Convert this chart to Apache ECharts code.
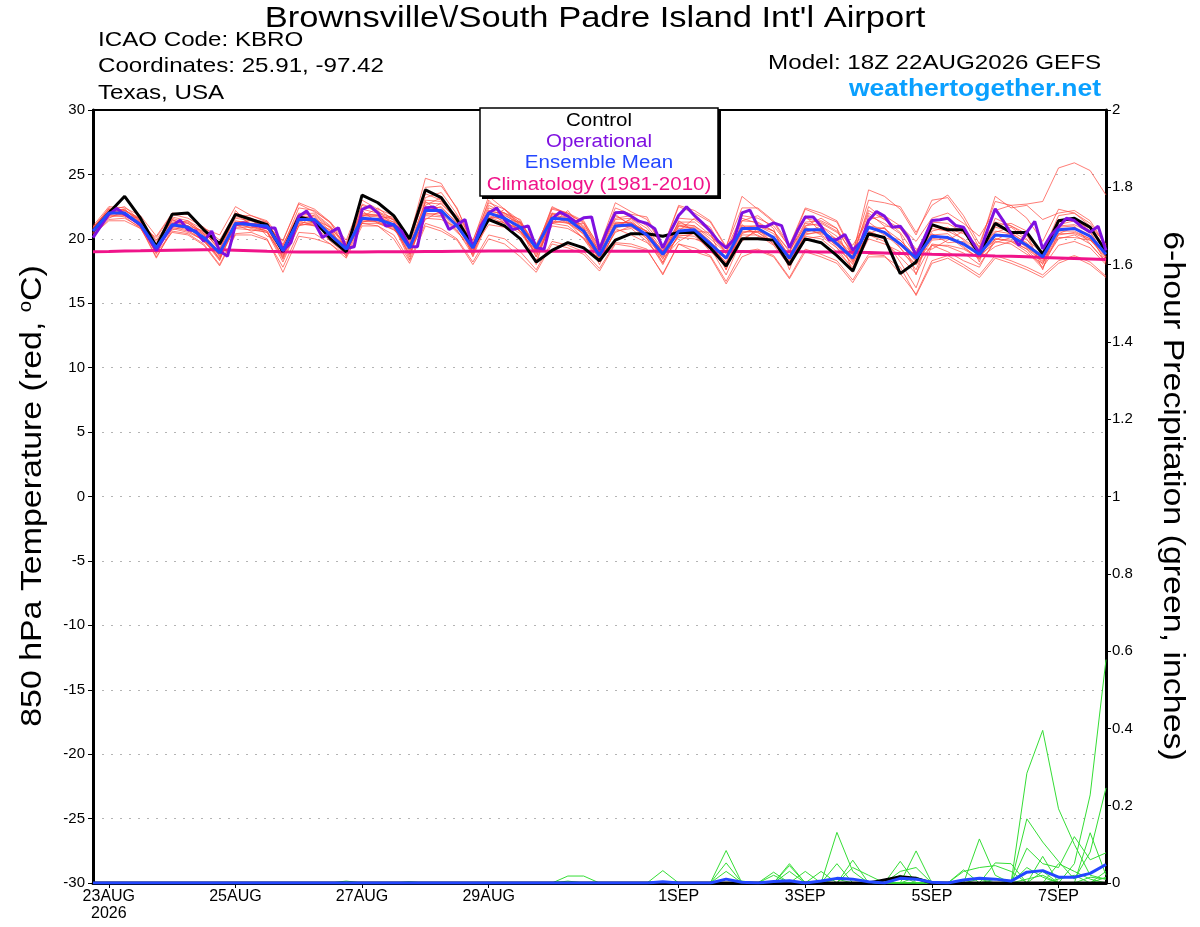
<!DOCTYPE html>
<html>
<head>
<meta charset="utf-8">
<script src="https://cdn.jsdelivr.net/npm/echarts@6/dist/echarts.min.js"></script>
<style>
html,body{margin:0;padding:0;background:#fff;}
#chart{width:1200px;height:927px;}
</style>
</head>
<body>
<div id="chart"></div>
<script>
// ---- Time axis: forecast hours relative to 23AUG2026 00Z (run 22AUG 18Z) ----
const tickHours = [0, 48, 96, 144, 216, 264, 312, 360];
const tickLabels = ["23AUG\n2026", "25AUG", "27AUG", "29AUG", "1SEP", "3SEP", "5SEP", "7SEP"];
const firstHour = -6;      // 22AUG 18Z
const lastHour = 378;      // 7SEP 18Z

// ---- 850 hPa temperature (°C), 6-hourly, 65 values ----
const controlT = [20.6, 22.0,23.3,21.6,19.4, 21.9,22.0,20.7,19.6, 21.9,21.5,21.1,19.0, 21.7,21.4,20.0,19.0,
  23.4,22.8,21.8,20.0, 23.8,23.2,21.5,19.4, 21.5,21.0,20.0,18.2, 19.1,19.7,19.3,18.3,
  19.9,20.4,20.4,20.2, 20.5,20.5,19.3,17.9, 20.0,20.0,19.9,18.0, 20.0,19.7,18.7,17.5,
  20.4,20.1,17.3,18.2, 21.1,20.7,20.7,18.8, 21.2,20.5,20.5,18.8, 21.4,21.6,20.9,19.0];
const meanT = [20.6, 22.0,22.0,21.1,19.3, 21.1,20.9,20.1,18.9, 21.2,21.1,21.0,19.1, 21.5,21.5,20.3,19.2,
  21.6,21.5,21.1,19.3, 22.2,22.2,21.0,19.3, 22.0,21.6,20.9,19.3, 21.6,21.5,20.6,18.7,
  21.0,21.1,20.3,18.8, 20.6,20.7,19.6,18.5, 20.8,20.8,20.1,18.5, 20.7,20.7,19.6,18.5,
  20.9,20.5,19.6,18.5, 20.2,20.1,19.6,18.8, 20.3,20.2,19.5,18.6, 20.7,20.8,20.2,18.8];
const climoT = [19.0,19.02,19.05,19.07,19.1,19.12,19.14,19.15,19.15,
  19.12,19.08,19.03,18.99,18.97,18.97,18.97,18.98,
  18.98,18.99,19.0,19.0,19.01,19.02,19.03,19.04,19.05,19.05,19.05,19.05,19.04,19.04,19.03,19.03,
  19.03,19.03,19.03,19.03,19.02,19.02,19.02,19.01,19.01,19.0,19.0,19.0,18.99,18.98,18.97,18.96,
  18.93,18.9,18.87,18.84,18.8,18.77,18.74,18.71,18.67,18.64,18.6,18.56,18.52,18.48,18.44,18.4];
// Operational run, 3-hourly, 129 values
const operT = [20.1,21.0,21.9,22.35,21.9,21.5,21.1,20.1,19.1,20.1,21.0,21.45,20.7,20.6,19.8,20.6,19.05,
  18.65,21.1,21.24,21.1,21.0,20.85,20.85,19.05,19.7,21.76,22.15,21.24,20.1,20.5,20.85,19.25,
  19.38,22.28,22.54,22.02,21.0,21.1,20.6,19.38,19.38,22.4,22.48,22.0,20.72,21.1,21.5,19.3,
  21.0,22.0,22.4,21.5,20.72,20.85,21.0,19.3,19.2,21.55,22.07,21.76,21.3,21.63,21.7,19.17,
  20.72,22.02,22.07,21.76,21.37,21.19,20.78,19.3,20.6,21.81,22.48,21.81,21.24,20.6,19.82,19.3,
  19.95,22.02,22.23,20.98,20.93,21.24,21.03,19.3,20.6,21.7,21.7,20.98,19.9,19.95,20.34,19.12,
  19.74,21.42,22.12,21.76,20.9,20.98,20.13,18.7,20.0,21.42,21.48,21.6,21.04,20.9,19.87,18.91,
  20.65,22.33,21.42,20.39,19.48,20.52,21.35,19.22,20.26,20.9,21.6,21.42,20.9,20.52,20.98,19.1];

// Ensemble members (°C), 6-hourly
const mem01 = [20.8, 22.3,22.2,21.5,19.8, 21.4,21.3,20.5,19.2, 21.6,21.4,21.2,19.5, 22.0,21.8,20.8,19.6, 22.0,21.8,21.5,19.8, 23.5,23.0,21.6,19.5, 22.4,22.0,21.3,19.6, 22.0,21.8,21.0,19.0, 21.5,21.6,20.8,19.2, 21.2,21.0,20.2,19.0, 21.4,21.3,20.6,19.1, 21.0,21.2,20.5,19.5, 21.5,21.8,21.0,19.8, 21.6,22.0,21.2,20.2, 22.2,22.6,22.7,22.9, 25.5,25.9,25.3,23.4];
const mem02 = [20.3, 21.5,21.6,20.9,18.6, 20.6,20.4,19.6,18.0, 20.4,20.5,20.0,17.4, 20.2,20.0,19.6,18.7, 21.2,21.0,20.3,18.3, 21.2,20.8,20.0,18.2, 20.3,20.0,19.0,17.6, 19.8,19.5,19.0,17.7, 19.7,19.6,19.2,17.2, 19.6,19.3,18.7,16.7, 19.0,19.2,18.7,17.0, 19.2,18.8,18.3,16.8, 18.8,18.7,17.3,15.7, 18.3,18.7,18.0,17.2, 18.7,18.3,17.8,17.2, 18.3,18.7,18.2,17.1];
const mem03 = [21.0, 22.5,22.4,21.8,20.2, 22.0,21.9,20.8,20.3, 22.5,21.8,21.4,19.8, 22.8,22.3,21.3,19.9, 23.0,22.3,21.8,20.1, 24.7,24.3,22.3,19.8, 23.3,22.3,21.2,19.2, 22.5,21.9,21.3,19.4, 22.8,22.1,21.5,19.3, 22.5,22.0,21.3,19.3, 23.3,22.3,21.3,19.3, 22.3,21.8,21.3,18.8, 23.8,23.3,22.3,20.3, 23.0,23.2,21.5,19.3, 23.3,22.4,22.6,21.5, 22.0,22.2,21.4,19.5];
const mem04 = [20.5, 21.8,21.9,21.0,19.0, 21.0,20.7,19.8,18.5, 20.9,20.9,20.6,18.6, 21.3,21.2,20.0,19.0, 21.4,21.3,20.9,19.0, 22.0,21.8,20.6,19.0, 21.7,21.2,20.4,18.9, 21.2,21.0,20.0,18.2, 20.6,20.8,19.8,18.2, 20.3,20.2,19.2,17.8, 20.3,20.3,19.5,17.9, 20.2,20.0,19.0,17.8, 20.3,19.8,18.6,17.3, 19.6,19.4,18.9,18.0, 19.8,19.6,18.8,18.1, 20.0,20.3,19.6,18.2];
const mem05 = [20.9, 22.1,22.0,21.3,19.6, 21.6,21.2,20.4,19.5, 21.7,21.6,21.1,19.3, 21.9,22.0,21.0,19.5, 22.3,22.0,21.5,19.7, 22.8,22.7,21.5,19.6, 22.6,22.0,21.5,19.0, 22.3,22.0,21.2,19.2, 21.6,21.8,21.0,19.5, 21.6,21.5,20.6,19.2, 21.8,21.6,21.0,19.4, 21.6,21.3,20.6,18.9, 22.2,21.5,20.5,18.7, 21.0,20.8,20.4,19.4, 21.3,21.0,20.2,19.0, 21.8,22.0,21.0,19.6];
const mem06 = [20.2, 21.9,22.1,20.9,18.5, 20.8,20.5,19.9,18.3, 21.3,20.8,20.5,18.2, 21.0,21.3,20.2,19.3, 21.8,21.7,21.0,18.8, 21.6,21.5,20.9,19.2, 21.1,20.9,20.0,18.3, 21.4,21.2,20.4,18.0, 20.8,20.3,19.7,18.5, 19.8,20.5,19.3,17.2, 20.0,20.6,20.2,18.3, 20.5,20.8,19.3,17.6, 20.0,19.6,19.0,18.0, 19.5,19.0,18.3,17.8, 20.0,19.8,19.2,17.8, 19.5,19.8,19.3,18.0];
const mem07 = [20.7, 22.2,22.3,21.3,19.4, 21.3,21.2,20.3,19.0, 21.0,21.2,21.2,19.6, 21.8,21.7,20.6,18.9, 21.9,21.9,21.3,19.5, 22.5,22.4,21.3,18.9, 22.2,21.9,21.0,19.4, 21.9,21.6,20.8,18.9, 21.3,21.2,20.6,19.0, 21.0,21.0,20.0,18.9, 20.9,21.0,20.4,18.7, 21.2,21.0,20.2,18.4, 21.0,20.8,19.9,18.6, 20.8,20.6,20.0,19.0, 20.6,20.4,19.7,18.4, 21.0,21.1,20.5,18.6];
const mem08 = [20.4, 21.7,21.8,21.1,19.1, 21.0,20.9,19.8,18.7, 21.1,20.9,20.8,18.9, 21.5,21.4,20.1,19.0, 21.2,21.2,20.8,19.2, 21.9,22.0,20.7,18.7, 21.8,21.4,20.6,19.0, 21.6,21.5,20.3,18.4, 21.2,21.3,20.0,18.0, 20.4,20.5,19.4,18.2, 20.8,20.5,19.8,18.0, 20.0,20.2,19.3,18.1, 20.5,20.0,18.2,16.2, 19.5,19.5,19.2,18.5, 19.4,19.8,19.0,17.7, 20.4,20.4,19.9,18.9];
const mem09 = [20.6, 22.0,21.9,21.2,19.5, 21.1,21.0,20.1,18.8, 21.4,21.2,21.1,19.0, 21.6,21.6,20.5,19.4, 21.5,21.3,20.7,19.6, 22.2,22.5,21.2,19.5, 22.0,21.8,21.2,19.5, 21.5,21.6,20.8,18.8, 21.1,20.9,20.3,18.9, 20.8,20.9,19.8,18.6, 20.5,20.6,20.0,18.4, 20.8,20.4,19.9,18.9, 21.0,20.3,19.9,18.6, 20.3,20.4,19.4,18.4, 20.9,20.6,19.9,18.9, 20.6,20.6,20.0,18.4];
const mem10 = [20.5, 22.1,22.0,20.9,19.2, 20.9,20.6,19.9,18.8, 20.8,20.7,20.5,18.7, 21.2,21.0,19.8,18.8, 21.6,21.4,20.9,18.8, 21.8,21.7,20.5,19.4, 21.4,21.3,20.6,18.8, 21.0,20.8,20.1,18.6, 20.9,21.0,20.0,18.6, 20.2,20.4,19.0,18.0, 20.6,20.5,19.6,18.2, 20.4,20.5,19.8,18.3, 20.8,20.8,19.5,18.3, 20.0,20.2,19.3,18.5, 20.0,19.9,19.2,18.3, 20.3,20.5,20.0,18.8];
const mem11 = [20.8, 22.4,22.2,21.4,19.9, 21.7,21.4,20.7,19.3, 21.8,21.8,21.3,19.4, 22.4,22.2,21.2,19.7, 22.6,22.1,21.6,20.0, 23.2,23.6,21.9,19.9, 22.8,22.3,21.4,19.3, 22.4,22.0,21.4,19.3, 22.4,21.9,21.7,19.3, 22.6,22.2,21.4,19.4, 22.4,22.4,21.4,19.5, 22.4,22.0,21.4,19.0, 23.0,22.8,22.5,20.5, 22.6,23.4,21.8,19.6, 22.9,22.6,21.6,19.8, 22.3,22.0,21.2,19.5];
const mem12 = [20.3, 21.4,21.4,20.8,18.9, 20.5,20.3,19.5,17.9, 20.3,20.3,19.9,17.8, 20.5,20.4,19.6,18.5, 21.0,21.0,20.0,18.1, 21.0,20.6,19.9,18.0, 20.0,19.6,18.6,17.4, 19.6,19.3,18.8,17.5, 19.6,19.4,19.1,17.3, 19.6,19.0,18.6,16.5, 18.6,19.1,18.6,16.9, 19.0,18.6,18.1,16.6, 18.6,18.6,17.8,15.6, 18.1,18.5,17.8,17.0, 18.5,18.1,17.6,17.0, 18.1,18.6,18.0,17.0];
const mem13 = [20.6, 21.6,22.2,21.6,19.0, 21.2,21.0,20.3,18.4, 22.2,21.0,20.6,18.4, 21.0,21.9,20.9,18.6, 22.7,22.2,21.0,18.4, 22.6,23.2,21.6,18.6, 21.5,22.3,21.0,18.0, 22.0,21.3,20.0,18.6, 20.8,21.6,20.5,18.4, 21.4,20.6,20.5,17.6, 21.4,21.8,20.8,17.6, 21.0,21.6,20.8,17.4, 21.8,21.2,20.4,17.2, 21.0,20.6,20.8,18.2, 21.6,21.0,20.4,17.6, 21.5,21.4,21.0,19.2];
const mem14 = [20.9, 22.3,22.0,21.0,20.1, 21.9,21.6,20.9,19.9, 22.0,21.6,20.2,19.9, 22.7,22.1,21.3,19.2, 21.3,21.5,21.8,19.9, 24.0,24.1,22.4,19.4, 23.0,21.7,20.5,19.1, 21.2,22.2,20.6,19.1, 21.9,21.0,20.4,19.1, 20.6,21.6,20.9,18.8, 19.8,20.8,19.6,18.9, 21.8,20.5,20.0,18.6, 22.5,21.5,20.8,19.2, 19.2,19.9,20.6,19.0, 19.9,20.5,19.6,18.7, 20.9,21.0,19.6,18.2];
const mem15 = [20.7, 22.0,22.3,21.2,18.8, 21.5,20.8,20.0,18.4, 21.0,21.5,21.3,18.8, 21.4,21.0,20.4,19.1, 21.8,21.8,21.1,18.6, 22.9,22.0,21.2,18.8, 22.0,21.5,21.3,18.6, 21.5,21.8,20.9,18.2, 21.2,21.3,20.5,18.1, 21.0,20.8,19.8,17.6, 21.0,21.0,20.6,18.6, 20.5,21.0,19.9,18.2, 21.3,20.4,19.3,17.6, 20.6,20.9,19.9,18.7, 20.5,20.9,20.0,18.0, 21.3,21.6,20.6,18.5];
const mem16 = [20.4, 21.9,21.7,20.8,19.6, 20.7,21.0,20.0,19.0, 21.1,20.6,20.8,19.3, 21.1,21.1,20.3,19.5, 21.3,21.6,21.3,19.1, 21.5,22.2,21.1,19.1, 21.6,21.7,20.6,19.3, 21.3,21.3,20.4,18.5, 20.5,21.0,20.2,18.7, 20.1,20.0,19.5,18.4, 21.1,20.2,19.9,18.1, 20.3,20.6,19.6,18.4, 20.4,20.9,19.3,18.0, 19.9,20.0,19.6,18.7, 19.7,20.1,19.4,18.2, 20.1,20.1,19.9,18.6];
const mem17 = [20.6, 22.1,21.8,21.6,19.2, 21.2,21.4,20.4,18.6, 21.3,21.4,20.9,18.5, 21.6,21.2,20.7,18.9, 22.2,21.2,20.7,19.4, 22.0,22.8,21.5,19.0, 22.2,21.2,20.8,18.6, 21.2,21.5,20.7,18.5, 21.0,21.5,20.1,18.8, 21.1,20.7,19.6,18.1, 20.4,20.9,20.0,18.7, 20.9,20.3,19.5,18.0, 20.6,20.1,19.7,18.2, 20.4,19.7,19.8,18.6, 20.3,20.3,19.3,18.5, 20.4,20.9,20.3,18.1];
const mem18 = [20.9, 22.2,22.5,21.4,19.4, 21.5,21.0,20.6,19.1, 21.9,21.1,21.0,19.1, 21.8,21.5,20.9,19.3, 21.7,22.4,21.4,19.2, 23.0,22.9,21.8,19.6, 22.1,22.0,21.1,19.1, 21.8,21.2,21.2,19.0, 21.8,21.1,20.6,19.0, 21.3,21.3,20.3,19.0, 21.6,21.2,20.6,19.0, 21.3,21.4,20.8,18.7, 22.0,21.0,20.8,19.0, 21.3,21.2,20.5,19.2, 21.0,21.2,20.6,18.8, 21.1,21.4,20.8,19.0];
const memberT = [mem01, mem02, mem03, mem04, mem05, mem06, mem07, mem08, mem09, mem10, mem11, mem12, mem13, mem14, mem15, mem16, mem17, mem18];

// ---- 6-hour precipitation (inches), 6-hourly, 65 values ----
const pr01 = [0,0,0,0,0,0,0,0,0,0,0,0,0, 0,0,0,0,0,0,0,0,0,0,0,0,0, 0,0,0,0,0,0,0,0,0,0,0,0,0, 0,0.084,0,0,0,0,0,0,0,0,0,0,0, 0,0,0,0,0,0,0,0.284,0.395,0.192,0.1,0.02,0.01];
const pr02 = [0,0,0,0,0,0,0,0,0,0,0,0,0, 0,0,0,0,0,0,0,0,0,0,0,0,0, 0,0,0,0,0,0,0,0,0,0,0,0,0, 0,0,0,0,0,0,0,0,0.131,0.03,0,0,0, 0,0,0,0,0,0,0,0,0,0,0.05,0.228,0.578];
const pr03 = [0,0,0,0,0,0,0,0,0,0,0,0,0, 0,0,0,0,0,0,0,0,0,0,0,0,0, 0,0,0,0,0,0,0,0,0,0,0.032,0,0, 0,0,0,0,0,0.05,0,0,0,0,0,0,0, 0.083,0,0,0,0,0,0,0.166,0.106,0.056,0.01,0.08,0.246];
const pr04 = [0,0,0,0,0,0,0,0,0,0,0,0,0, 0,0,0,0,0,0,0,0,0,0,0,0,0, 0,0,0,0,0.018,0.018,0,0,0,0,0,0,0, 0,0.052,0,0,0,0,0,0,0,0,0,0,0, 0,0,0,0,0.114,0.02,0,0,0.069,0,0,0.13,0.02];
const pr05 = [0,0,0,0,0,0,0,0,0,0,0,0,0, 0,0,0,0,0,0,0,0,0,0,0,0,0, 0,0,0,0,0,0,0,0,0,0,0,0,0, 0,0,0,0,0.028,0,0,0,0,0.059,0,0,0.056, 0,0,0,0,0,0,0,0.09,0.05,0.04,0.12,0.06,0.078];
const pr06 = [0,0,0,0,0,0,0,0,0,0,0,0,0, 0,0,0,0,0,0,0,0,0,0,0,0,0, 0,0,0,0,0,0,0,0,0,0,0,0,0, 0,0.03,0,0,0,0.045,0,0.03,0,0,0,0,0, 0,0,0,0.034,0,0.052,0.05,0,0.03,0,0,0,0.015];
const pr07 = [0,0,0,0,0,0,0,0,0,0,0,0,0, 0,0,0,0,0,0,0,0,0,0,0,0,0, 0,0,0,0,0,0,0,0,0,0,0,0,0, 0,0,0,0,0,0.03,0,0,0.05,0,0,0,0.03, 0.04,0,0,0.03,0.04,0.045,0.03,0,0,0.05,0.03,0.01,0];
const pr08 = [0,0,0,0,0,0,0,0,0,0,0,0,0, 0,0,0,0.005,0,0,0,0.003,0,0,0,0,0, 0,0,0,0,0,0,0,0,0,0,0,0,0, 0,0,0,0,0.02,0,0.03,0,0,0.04,0.02,0,0.02, 0,0,0,0,0,0,0,0.04,0.015,0,0,0,0.03];
const pr09 = [0,0,0,0,0,0,0,0,0,0,0,0,0, 0,0,0,0,0,0,0,0,0,0,0,0,0, 0,0,0,0,0.005,0,0,0,0,0,0,0,0, 0,0,0.005,0,0,0,0,0,0.01,0,0,0,0, 0.015,0,0,0,0.01,0,0,0.01,0.02,0,0,0.015,0.01];
const pr10 = [0,0,0,0,0,0,0,0,0,0,0,0,0, 0,0,0,0,0,0,0,0,0,0,0,0,0, 0,0,0,0,0,0,0,0,0,0,0,0,0, 0,0,0,0,0,0,0,0,0,0,0,0,0, 0,0,0,0,0,0.01,0,0,0,0.01,0.02,0,0];
const memberP = [pr01, pr02, pr03, pr04, pr05, pr06, pr07, pr08, pr09, pr10];
const controlP = [0,0,0,0,0,0,0,0,0,0,0,0,0, 0,0,0,0,0,0,0,0,0,0,0,0,0, 0,0,0,0,0,0,0,0,0,0,0,0,0, 0,0,0,0,0,0,0,0,0,0,0,0.008,0.016, 0.012,0,0,0,0,0,0,0,0,0,0,0,0];
const meanP = [0,0,0,0,0,0,0,0,0,0,0,0,0, 0,0,0,0,0,0,0,0,0,0,0,0,0, 0,0,0,0,0,0,0,0,0,0,0.003,0,0, 0,0.01,0.002,0,0.004,0.006,0,0.005,0.012,0.01,0.003,0,0.012, 0.01,0.002,0,0.008,0.012,0.01,0.005,0.028,0.032,0.015,0.015,0.025,0.048];

// ---- build series from arrays ----
const hours6 = meanT.map((_, i) => firstHour + 6 * i);
const hours3 = operT.map((_, j) => firstHour + 3 * j);
const pairs = (hrs, vals) => vals.map((v, i) => [hrs[i], v]);

const FONT = '"Liberation Sans", Arial, Helvetica, sans-serif';
const series = [];
memberP.forEach((arr, k) => series.push({
  name: 'precip member ' + (k + 1), type: 'line', yAxisIndex: 1, data: pairs(hours6, arr),
  showSymbol: false, symbol: 'none', silent: true, z: 2,
  lineStyle: { color: '#35dd35', width: 1 }
}));
memberT.forEach((arr, k) => series.push({
  name: 'member ' + (k + 1), type: 'line', data: pairs(hours6, arr),
  showSymbol: false, symbol: 'none', silent: true, z: 2,
  lineStyle: { color: 'rgba(255,70,60,0.7)', width: 1 }
}));
series.push({ name: 'Climatology', type: 'line', data: pairs(hours6, climoT), showSymbol: false, symbol: 'none', z: 3,
  lineStyle: { color: '#f0148a', width: 3 } });
series.push({ name: 'Control', type: 'line', data: pairs(hours6, controlT), showSymbol: false, symbol: 'none', z: 4,
  lineStyle: { color: '#000000', width: 3 } });
series.push({ name: 'Operational', type: 'line', data: pairs(hours3, operT), showSymbol: false, symbol: 'none', z: 5,
  lineStyle: { color: '#7f10e0', width: 3 } });
series.push({ name: 'Ensemble Mean', type: 'line', data: pairs(hours6, meanT), showSymbol: false, symbol: 'none', z: 6,
  lineStyle: { color: '#2347ff', width: 3 } });
series.push({ name: 'Control precip', type: 'line', yAxisIndex: 1, data: pairs(hours6, controlP), showSymbol: false, symbol: 'none', z: 4,
  lineStyle: { color: '#000000', width: 3 } });
series.push({ name: 'Mean precip', type: 'line', yAxisIndex: 1, data: pairs(hours6, meanP), showSymbol: false, symbol: 'none', z: 6,
  lineStyle: { color: '#2347ff', width: 3 } });

const txt = (x, y, text, size, fill, align, sx, extra) => Object.assign({
  type: 'text', x: x, y: y, scaleX: sx,
  style: { text: text, font: size + 'px ' + FONT, fill: fill, align: align, verticalAlign: 'middle' }
}, extra || {});

const chart = echarts.init(document.getElementById('chart'), null, { renderer: 'canvas' });
chart.setOption({
  animation: false,
  backgroundColor: '#ffffff',
  textStyle: { fontFamily: FONT },
  grid: { left: 93, right: 94, top: 110, bottom: 44, show: false },
  xAxis: [{
    type: 'value', min: firstHour, max: lastHour, position: 'bottom',
    axisLine: { show: true, onZero: false, lineStyle: { color: '#000', width: 3 } },
    axisTick: { show: true, customValues: tickHours, length: 5, lineStyle: { color: '#000', width: 1 } },
    axisLabel: { customValues: tickHours, color: '#000', fontSize: 16, fontFamily: FONT, margin: 5, lineHeight: 17,
      formatter: v => tickLabels[tickHours.indexOf(v)] || '' },
    splitLine: { show: false }
  }, {
    type: 'value', min: firstHour, max: lastHour, position: 'top',
    axisLine: { show: true, onZero: false, lineStyle: { color: '#000', width: 2 } },
    axisTick: { show: false }, axisLabel: { show: false }, splitLine: { show: false }
  }],
  yAxis: [{
    type: 'value', min: -30, max: 30, interval: 5, position: 'left',
    axisLine: { show: true, onZero: false, lineStyle: { color: '#000', width: 3 } },
    axisTick: { show: true, length: 5, lineStyle: { color: '#000', width: 1 } },
    axisLabel: { color: '#000', fontSize: 15, fontFamily: FONT, margin: 8 },
    splitLine: { show: true, showMinLine: false, showMaxLine: false, lineStyle: { color: '#b4b4b4', type: [2, 7], width: 1 } }
  }, {
    type: 'value', min: 0, max: 2, interval: 0.2, position: 'right',
    axisLine: { show: true, onZero: false, lineStyle: { color: '#000', width: 3 } },
    axisTick: { show: true, length: 5, lineStyle: { color: '#000', width: 1 } },
    axisLabel: { color: '#000', fontSize: 15, fontFamily: FONT, margin: 6, formatter: v => String(+v.toFixed(1)) },
    splitLine: { show: false }
  }],
  series: series,
  graphic: [
    txt(595, 19, "Brownsville\\/South Padre Island Int'l Airport", 30, '#000', 'center', 1.15),
    txt(98, 40, 'ICAO Code: KBRO', 21, '#000', 'left', 1.15),
    txt(98, 66, 'Coordinates: 25.91, -97.42', 21, '#000', 'left', 1.15),
    txt(98, 93, 'Texas, USA', 21, '#000', 'left', 1.15),
    txt(1101, 63, 'Model: 18Z 22AUG2026 GEFS', 21, '#000', 'right', 1.15),
    { type: 'text', x: 1101, y: 89, scaleX: 1.12,
      style: { text: 'weathertogether.net', font: 'bold 23.7px ' + FONT, fill: '#0aa0ff', align: 'right', verticalAlign: 'middle' } },
    { type: 'rect', shape: { x: 482, y: 110, width: 239, height: 89 }, style: { fill: '#000' }, z: 99 },
    { type: 'rect', shape: { x: 480, y: 108, width: 238, height: 88 }, style: { fill: '#fff', stroke: '#000', lineWidth: 1.5 }, z: 100 },
    txt(599, 121, 'Control', 18, '#000', 'center', 1.14, { z: 101 }),
    txt(599, 142, 'Operational', 18, '#7f10e0', 'center', 1.14, { z: 101 }),
    txt(599, 163, 'Ensemble Mean', 18, '#2347ff', 'center', 1.14, { z: 101 }),
    txt(599, 185, 'Climatology (1981-2010)', 18, '#f0148a', 'center', 1.14, { z: 101 }),
    { type: 'text', x: 33, y: 496, rotation: Math.PI / 2, scaleX: 1.13, style: {
        text: '850 hPa Temperature (red, {sup|o}C)', font: '30px ' + FONT, fill: '#000', align: 'center', verticalAlign: 'middle',
        rich: { sup: { font: '18px ' + FONT, fill: '#000', padding: [0, 0, 14, 0] } } } },
    { type: 'text', x: 1172, y: 496, rotation: -Math.PI / 2, scaleX: 1.13, style: {
        text: '6-hour Precipitation (green, inches)', font: '30px ' + FONT, fill: '#000', align: 'center', verticalAlign: 'middle' } }
  ]
});
</script>
</body>
</html>
